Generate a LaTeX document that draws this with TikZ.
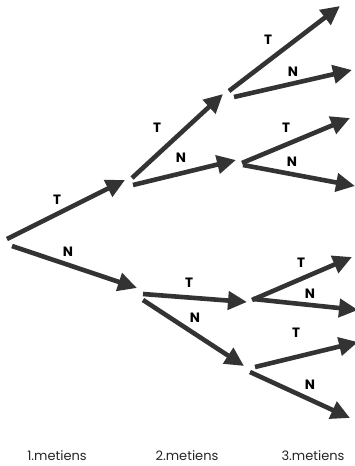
\documentclass[tikz,border=0pt]{standalone}
\usepackage{fontspec}
\setmainfont{Poppins}
\usetikzlibrary{arrows.meta}
\definecolor{arr}{HTML}{333333}
\tikzset{
  br/.style={draw=arr, line width=4.6pt, -{Triangle[length=19pt,width=18pt]}},
  lab/.style={font=\bfseries\fontsize{13.5}{14}\selectfont, text=black, inner sep=0pt},
  foot/.style={font=\fontsize{13}{14}\selectfont, text=black!85, inner sep=0pt, anchor=base}
}
\begin{document}
\begin{tikzpicture}[x=1pt,y=-1pt]
\useasboundingbox (0,0) rectangle (355,466);
% first stage
\coordinate (a1s) at (7,239);   \coordinate (a1e) at (125,180);
\coordinate (a2s) at (12,246);  \coordinate (a2e) at (137,288);
% second stage, upper
\coordinate (b1s) at (132,178); \coordinate (b1e) at (223,94);
\coordinate (b2s) at (133,185); \coordinate (b2e) at (236,160);
% second stage, lower
\coordinate (b3s) at (143,294); \coordinate (b3e) at (247,302);
\coordinate (b4s) at (143,300); \coordinate (b4e) at (244,366);
% third stage
\coordinate (c1s) at (229,91);  \coordinate (c1e) at (340,6);
\coordinate (c2s) at (234,97);  \coordinate (c2e) at (352,70);
\coordinate (c3s) at (242,163); \coordinate (c3e) at (350,118);
\coordinate (c4s) at (243,165); \coordinate (c4e) at (355,186);
\coordinate (c5s) at (252,300); \coordinate (c5e) at (352,257);
\coordinate (c6s) at (253,299); \coordinate (c6e) at (358,310);
\coordinate (c7s) at (255,367); \coordinate (c7e) at (358,342);
\coordinate (c8s) at (250,372); \coordinate (c8e) at (350,418);
\foreach \p in {a1,a2,b1,b2,b3,b4,c1,c2,c3,c4,c5,c6,c7,c8}
  \draw[br] (\p s) -- (\p e);
% labels
\node[lab] (la1) at (57,200) {T};
\node[lab] (la2) at (68,252) {N};
\node[lab] (lb1) at (157,128) {T};
\node[lab] (lb2) at (181,158) {N};
\node[lab] (lb3) at (189,283) {T};
\node[lab] (lb4) at (195,318) {N};
\node[lab] (lc1) at (268,40) {T};
\node[lab] (lc2) at (293,72) {N};
\node[lab] (lc3) at (286,128) {T};
\node[lab] (lc4) at (292,162) {N};
\node[lab] (lc5) at (301,263) {T};
\node[lab] (lc6) at (310,294) {N};
\node[lab] (lc7) at (296,333) {T};
\node[lab] (lc8) at (310,385) {N};
% footer
\node[foot] (f1) at (57,460) {1.metiens};
\node[foot] (f2) at (187,460) {2.metiens};
\node[foot] (f3) at (313,460) {3.metiens};
\end{tikzpicture}
\end{document}
